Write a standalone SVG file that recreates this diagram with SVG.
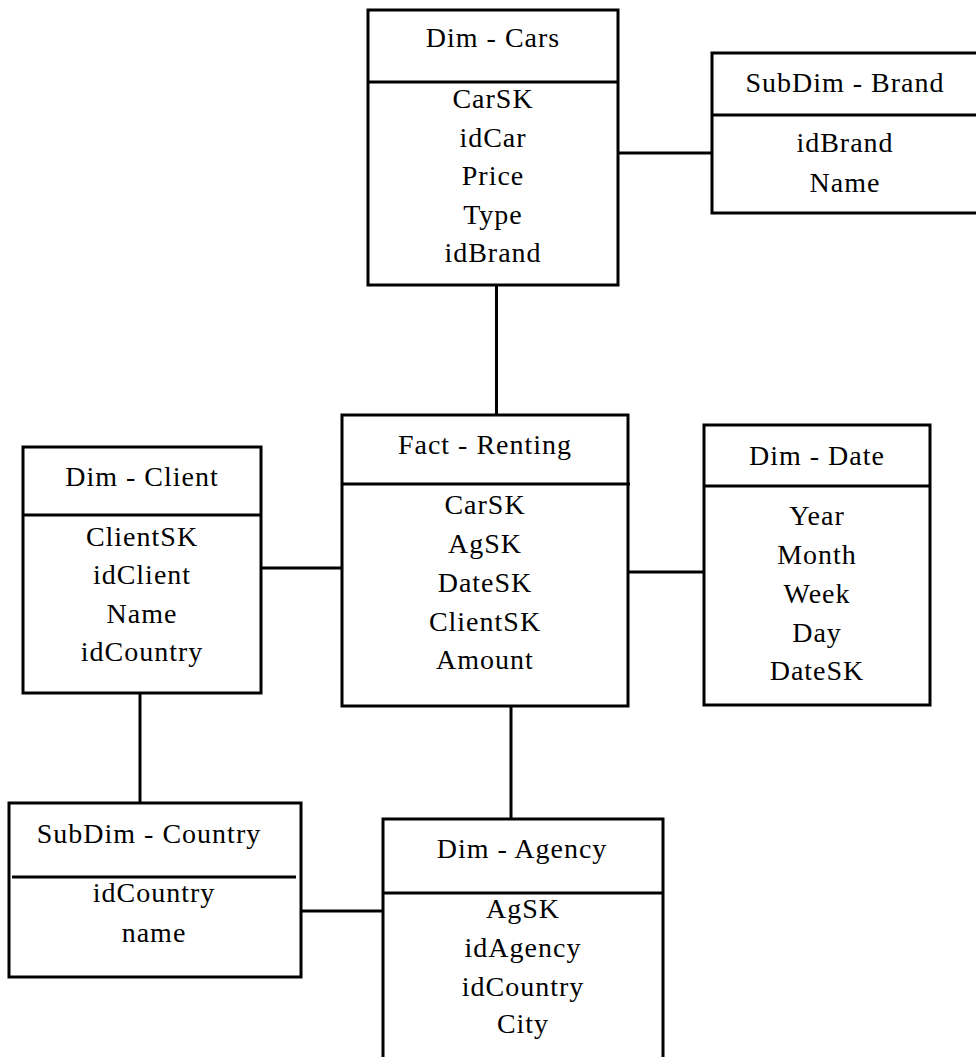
<svg xmlns="http://www.w3.org/2000/svg" width="976" height="1057" viewBox="0 0 976 1057">
  <style>
    .box { fill: #ffffff; stroke: #000000; stroke-width: 3; }
    .sep { stroke: #000000; stroke-width: 3; }
    .link { stroke: #000000; stroke-width: 3; fill: none; }
    text { font-family: "Liberation Serif", "Times New Roman", serif; font-size: 28px; letter-spacing: 1px; fill: #000000; text-anchor: middle; }
  </style>
  <rect width="976" height="1057" fill="#ffffff"/>

  <!-- relationships between tables -->
  <g id="connectors">
    <line class="link" x1="496.5" y1="285" x2="496.5" y2="415"/>
    <line class="link" x1="618" y1="153" x2="712" y2="153"/>
    <line class="link" x1="261" y1="568" x2="342" y2="568"/>
    <line class="link" x1="628" y1="572" x2="704" y2="572"/>
    <line class="link" x1="511" y1="706" x2="511" y2="819"/>
    <line class="link" x1="140" y1="693" x2="140" y2="803"/>
    <line class="link" x1="301" y1="911" x2="383" y2="911"/>
  </g>

  <g id="dim-cars">
    <rect class="box" x="368" y="10" width="250" height="275"/>
    <line class="sep" x1="368" y1="82" x2="618" y2="82"/>
    <text x="493" y="47">Dim - Cars</text>
    <text x="493" y="108">CarSK</text>
    <text x="493" y="147">idCar</text>
    <text x="493" y="185">Price</text>
    <text x="493" y="224">Type</text>
    <text x="493" y="262">idBrand</text>
  </g>

  <g id="subdim-brand">
    <rect class="box" x="712" y="53" width="300" height="160"/>
    <line class="sep" x1="712" y1="115" x2="976" y2="115"/>
    <text x="845" y="92">SubDim - Brand</text>
    <text x="845" y="152">idBrand</text>
    <text x="845" y="192">Name</text>
  </g>

  <g id="dim-client">
    <rect class="box" x="23" y="447" width="238" height="246"/>
    <line class="sep" x1="23" y1="515" x2="261" y2="515"/>
    <text x="142" y="486">Dim - Client</text>
    <text x="142" y="546">ClientSK</text>
    <text x="142" y="584">idClient</text>
    <text x="142" y="623">Name</text>
    <text x="142" y="661">idCountry</text>
  </g>

  <g id="fact-renting">
    <rect class="box" x="342" y="415" width="286" height="291"/>
    <line class="sep" x1="342" y1="484" x2="630" y2="484"/>
    <text x="485" y="454">Fact - Renting</text>
    <text x="485" y="514">CarSK</text>
    <text x="485" y="553">AgSK</text>
    <text x="485" y="592">DateSK</text>
    <text x="485" y="631">ClientSK</text>
    <text x="485" y="669">Amount</text>
  </g>

  <g id="dim-date">
    <rect class="box" x="704" y="425" width="226" height="280"/>
    <line class="sep" x1="704" y1="486" x2="930" y2="486"/>
    <text x="817" y="465">Dim - Date</text>
    <text x="817" y="525">Year</text>
    <text x="817" y="564">Month</text>
    <text x="817" y="603">Week</text>
    <text x="817" y="642">Day</text>
    <text x="817" y="680">DateSK</text>
  </g>

  <g id="subdim-country">
    <rect class="box" x="9" y="803" width="292" height="174"/>
    <line class="sep" x1="12" y1="877" x2="296" y2="877"/>
    <text x="149" y="843">SubDim - Country</text>
    <text x="154" y="902">idCountry</text>
    <text x="154" y="942">name</text>
  </g>

  <g id="dim-agency">
    <rect class="box" x="383" y="819" width="280" height="300"/>
    <line class="sep" x1="383" y1="893" x2="663" y2="893"/>
    <text x="522" y="858">Dim - Agency</text>
    <text x="523" y="918">AgSK</text>
    <text x="523" y="957">idAgency</text>
    <text x="523" y="996">idCountry</text>
    <text x="523" y="1033">City</text>
  </g>
</svg>
